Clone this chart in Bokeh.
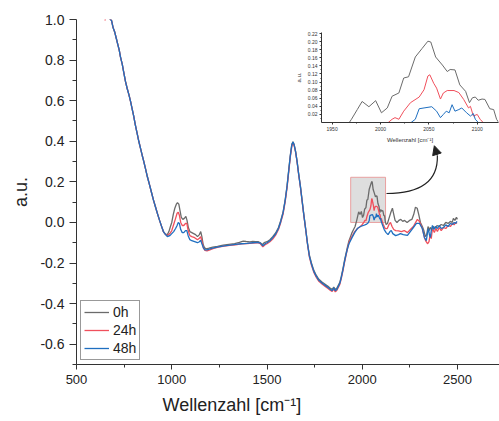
from bokeh.plotting import figure
from bokeh.models import Range1d, FixedTicker, Legend, LegendItem, Arrow, NormalHead, ColumnDataSource, Title
from bokeh.layouts import column
from bokeh.embed import file_html
from bokeh.resources import INLINE

# ---------------- data ----------------
wn_descent = [655, 668, 684, 692, 700, 708, 716, 724, 731, 740, 748, 757, 766, 775, 784, 792, 800, 809,
              818, 827, 836, 845, 852, 862, 872, 882, 893, 904, 915, 926, 936, 946, 956, 966]
a_descent = [1.03, 1.01, 0.995, 0.96, 0.94, 0.91, 0.88, 0.85, 0.815, 0.78, 0.74, 0.695, 0.66, 0.63, 0.595,
             0.56, 0.525, 0.48, 0.44, 0.40, 0.365, 0.33, 0.305, 0.265, 0.225, 0.19, 0.15, 0.11, 0.075,
             0.04, 0.01, -0.018, -0.045, -0.058]

wn_rise = [1515, 1530, 1545, 1560, 1572, 1584, 1595, 1605, 1614, 1622, 1630, 1636, 1642, 1650, 1658,
           1666, 1675, 1684, 1693, 1702, 1712, 1722, 1733, 1745, 1758, 1772, 1790, 1805, 1820, 1833,
           1842, 1850, 1858, 1866, 1874, 1882]
a_rise_0h = [-0.085, -0.07, -0.052, -0.025, 0.01, 0.05, 0.11, 0.18, 0.26, 0.33, 0.385, 0.398, 0.385,
             0.35, 0.30, 0.24, 0.18, 0.11, 0.04, -0.025, -0.10, -0.16, -0.20, -0.235, -0.26, -0.28,
             -0.295, -0.305, -0.315, -0.325, -0.33, -0.318, -0.33, -0.325, -0.31, -0.295]
a_rise_24h = [-0.095, -0.082, -0.063, -0.035, 0.0, 0.04, 0.10, 0.17, 0.25, 0.32, 0.375, 0.39, 0.38,
              0.345, 0.295, 0.235, 0.175, 0.105, 0.035, -0.03, -0.105, -0.17, -0.21, -0.245, -0.27,
              -0.29, -0.305, -0.315, -0.325, -0.335, -0.34, -0.328, -0.342, -0.335, -0.32, -0.305]
a_rise_48h = [-0.09, -0.075, -0.057, -0.03, 0.005, 0.047, 0.107, 0.177, 0.257, 0.327, 0.382, 0.396,
              0.383, 0.348, 0.298, 0.238, 0.178, 0.107, 0.037, -0.028, -0.103, -0.165, -0.205, -0.24,
              -0.265, -0.285, -0.3, -0.31, -0.32, -0.33, -0.336, -0.322, -0.336, -0.33, -0.315, -0.3]

# 0h
wn_0h_a = [977, 985, 993, 1000, 1008, 1016, 1024, 1030, 1037, 1043, 1050, 1058, 1066, 1074, 1080, 1087,
           1095, 1105, 1115, 1125, 1135, 1145, 1152, 1158, 1165, 1172, 1182, 1195, 1215, 1240, 1270,
           1300, 1330, 1355, 1375, 1390, 1410, 1425, 1440, 1455, 1465, 1475, 1485, 1500]
a_0h_a = [-0.06, -0.045, -0.02, 0.0, 0.04, 0.07, 0.09, 0.097, 0.09, 0.06, 0.025, 0.015, 0.02, 0.03,
          0.01, -0.025, -0.045, -0.05, -0.055, -0.06, -0.07, -0.06, -0.045, -0.07, -0.11, -0.125,
          -0.13, -0.127, -0.122, -0.118, -0.112, -0.108, -0.104, -0.098, -0.092, -0.094, -0.096,
          -0.093, -0.095, -0.095, -0.10, -0.11, -0.10, -0.095]
wn_0h_b = [1890, 1898, 1906, 1914, 1922, 1930, 1938, 1946, 1954, 1962, 1970, 1976, 1981, 1988, 1995,
           2001, 2007, 2012, 2019, 2024, 2029, 2036, 2043, 2049, 2052, 2057, 2064, 2069, 2072, 2077,
           2082, 2088, 2092, 2095, 2098, 2101, 2105, 2108, 2113, 2117, 2120, 2125, 2132, 2140, 2150,
           2158, 2165, 2172, 2182, 2192, 2202, 2212, 2222, 2235, 2248, 2260, 2270, 2279, 2288, 2296,
           2305, 2315, 2323, 2331, 2338, 2345, 2352, 2357, 2365, 2373, 2382, 2392, 2402, 2414, 2426,
           2438, 2450, 2462, 2472, 2478, 2486, 2494, 2499]
a_0h_b = [-0.265, -0.23, -0.19, -0.155, -0.12, -0.09, -0.07, -0.05, -0.035, -0.02, 0.008, 0.032, 0.052,
          0.039, 0.054, 0.024, 0.036, 0.065, 0.073, 0.11, 0.113, 0.162, 0.183, 0.201, 0.199, 0.162,
          0.142, 0.126, 0.131, 0.13, 0.093, 0.077, 0.049, 0.061, 0.063, 0.055, 0.058, 0.057, 0.034,
          0.032, 0.008, -0.01, -0.005, 0.02, 0.05, 0.07, 0.04, 0.01, 0.0, 0.01, 0.015, 0.005, 0.01,
          0.0, 0.01, 0.015, 0.04, 0.075, 0.07, 0.04, 0.0, -0.02, -0.04, -0.07, -0.06, -0.02, -0.04,
          -0.025, -0.035, -0.02, -0.03, -0.015, -0.02, -0.01, -0.015, 0.0, -0.005, 0.005, 0.0, 0.02,
          0.01, 0.025, 0.015]

# 24h
wn_24h_a = [977, 990, 1000, 1010, 1020, 1028, 1034, 1040, 1047, 1055, 1063, 1072, 1079, 1086, 1095,
            1105, 1120, 1135, 1145, 1152, 1158, 1166, 1174, 1185, 1200, 1220, 1245, 1275, 1305, 1335,
            1365, 1395, 1425, 1450, 1465, 1478, 1490, 1500]
a_24h_a = [-0.065, -0.055, -0.04, -0.01, 0.02, 0.045, 0.05, 0.035, 0.0, -0.015, -0.015, -0.005, -0.005,
           -0.04, -0.065, -0.07, -0.075, -0.085, -0.078, -0.07, -0.09, -0.125, -0.138, -0.14, -0.135,
           -0.128, -0.122, -0.117, -0.113, -0.11, -0.106, -0.104, -0.102, -0.10, -0.105, -0.12,
           -0.11, -0.105]
wn_24h_b = [1890, 1898, 1906, 1914, 1922, 1930, 1938, 1946, 1960, 1975, 1990, 2000, 2008, 2012, 2015,
            2019, 2024, 2031, 2040, 2045, 2049, 2051, 2055, 2058, 2062, 2065, 2069, 2076, 2081, 2086,
            2091, 2093, 2096, 2100, 2103, 2110, 2120, 2131, 2140, 2148, 2156, 2165, 2175, 2190, 2205,
            2220, 2237, 2252, 2268, 2280, 2289, 2300, 2315, 2326, 2335, 2343, 2350, 2356, 2362, 2368,
            2378, 2386, 2394, 2404, 2414, 2426, 2438, 2450, 2462, 2474, 2482, 2490, 2497]
a_24h_b = [-0.275, -0.24, -0.20, -0.165, -0.13, -0.10, -0.08, -0.068, -0.045, -0.03, -0.02, -0.01, 0.0,
           0.008, 0.012, 0.008, 0.028, 0.049, 0.063, 0.081, 0.115, 0.118, 0.097, 0.085, 0.058, 0.073,
           0.079, 0.079, 0.074, 0.057, 0.036, 0.04, 0.016, 0.02, 0.008, -0.01, -0.03, -0.03, -0.01,
           0.0, -0.02, -0.035, -0.04, -0.042, -0.045, -0.04, -0.05, -0.035, -0.02, 0.0, 0.015, 0.005,
           -0.03, -0.075, -0.095, -0.105, -0.095, -0.06, -0.08, -0.03, -0.05, -0.03, -0.045, -0.025,
           -0.04, -0.025, -0.03, -0.015, -0.02, -0.005, -0.012, 0.0, -0.005]

# 48h
wn_48h_a = [977, 990, 1000, 1010, 1020, 1028, 1034, 1040, 1047, 1055, 1063, 1072, 1079, 1086, 1095,
            1105, 1120, 1135, 1145, 1152, 1158, 1166, 1174, 1185, 1200, 1220, 1245, 1275, 1305, 1335,
            1365, 1395, 1425, 1450, 1465, 1478, 1490, 1500]
a_48h_a = [-0.07, -0.065, -0.055, -0.045, -0.03, -0.015, 0.0, -0.005, -0.035, -0.05, -0.05, -0.04,
           -0.04, -0.065, -0.085, -0.09, -0.095, -0.10, -0.095, -0.088, -0.105, -0.125, -0.135, -0.135,
           -0.13, -0.125, -0.12, -0.115, -0.112, -0.108, -0.105, -0.103, -0.10, -0.098, -0.102,
           -0.115, -0.105, -0.10]
wn_48h_b = [1890, 1898, 1906, 1914, 1922, 1930, 1938, 1946, 1960, 1974, 1990, 2006, 2020, 2030, 2036,
            2040, 2045, 2053, 2058, 2062, 2065, 2068, 2071, 2074, 2077, 2081, 2084, 2089, 2093, 2096,
            2098, 2105, 2115, 2125, 2135, 2145, 2152, 2160, 2175, 2190, 2200, 2215, 2237, 2252, 2268,
            2284, 2300, 2315, 2326, 2336, 2342, 2347, 2352, 2357, 2362, 2368, 2376, 2384, 2394, 2404,
            2414, 2426, 2438, 2450, 2462, 2474, 2482, 2490, 2497]
a_48h_b = [-0.27, -0.235, -0.195, -0.16, -0.13, -0.105, -0.09, -0.075, -0.05, -0.03, -0.02, -0.015,
           -0.01, -0.003, 0.008, 0.034, 0.036, 0.039, 0.028, 0.012, 0.02, 0.028, 0.024, 0.044, 0.028,
           0.032, 0.036, 0.024, 0.016, 0.022, 0.008, -0.01, -0.035, -0.05, -0.06, -0.045, -0.04,
           -0.055, -0.065, -0.06, -0.055, -0.06, -0.064, -0.045, -0.025, -0.005, -0.005, -0.03,
           -0.074, -0.09, -0.05, -0.03, -0.06, -0.074, -0.04, -0.015, -0.035, -0.02, -0.03, -0.015,
           -0.03, -0.025, -0.012, -0.02, -0.005, -0.01, 0.0, -0.005, 0.005]

series_labels = ["0h", "24h", "48h"]
series_colors = ["#6b6b6b", "#f0505c", "#1f6fc0"]

x_major = [500, 1000, 1500, 2000, 2500]
x_minor = [750, 1250, 1750, 2250, 2750]
y_major = [-0.6, -0.4, -0.2, 0.0, 0.2, 0.4, 0.6, 0.8, 1.0]
y_minor = [-0.7, -0.5, -0.3, -0.1, 0.1, 0.3, 0.5, 0.7, 0.9]
y_labels = ["-0.6", "-0.4", "-0.2", "0.0", "0.2", "0.4", "0.6", "0.8", "1.0"]

ix_major = [1950, 2000, 2050, 2100]
ix_minor = [1975, 2025, 2075, 2125]
iy_major = [0.02, 0.04, 0.06, 0.08, 0.10, 0.12, 0.14, 0.16, 0.18, 0.20, 0.22]
iy_minor = [0.01, 0.03, 0.05, 0.07, 0.09, 0.11, 0.13, 0.15, 0.17, 0.19, 0.21]
iy_labels = ["0.02", "0.04", "0.06", "0.08", "0.10", "0.12", "0.14", "0.16", "0.18", "0.20", "0.22"]

inset_x = (1939, 2122)
inset_y = (0.0, 0.2225)

x_title = "Wellenzahl [cm⁻¹]"
y_title = "a.u."

# ---------------- assemble ----------------
x0h = wn_descent + wn_0h_a + wn_rise + wn_0h_b
y0h = a_descent + a_0h_a + a_rise_0h + a_0h_b
x24 = [650] + wn_descent + wn_24h_a + wn_rise + wn_24h_b
y24 = [0.995] + a_descent + a_24h_a + a_rise_24h + a_24h_b
x48 = wn_descent + wn_48h_a + wn_rise + wn_48h_b
y48 = a_descent + a_48h_a + a_rise_48h + a_48h_b

sources = [ColumnDataSource(dict(x=x0h, y=y0h)),
           ColumnDataSource(dict(x=x24, y=y24)),
           ColumnDataSource(dict(x=x48, y=y48))]

FONT = "Liberation Sans"
AX = "#333333"

p = figure(width=499, height=421, x_range=Range1d(500, 2720), y_range=Range1d(-0.7, 1.0),
           output_backend="svg", toolbar_location=None,
           min_border_left=76, min_border_right=0, min_border_top=19, min_border_bottom=56)
p.outline_line_color = None
p.grid.visible = False
p.background_fill_color = "white"
p.frame_align = False

for ax in (p.xaxis[0], p.yaxis[0]):
    ax.axis_line_color = AX
    ax.major_tick_line_color = AX
    ax.minor_tick_line_color = AX
    ax.major_tick_in = 0
    ax.minor_tick_in = 0
    ax.major_label_text_font = FONT
    ax.major_label_text_color = "#222222"
    ax.axis_label_text_font = FONT
    ax.axis_label_text_font_style = "normal"
    ax.axis_label_text_font_size = "18px"
    ax.axis_label_text_color = "#222222"

p.xaxis.ticker = FixedTicker(ticks=x_major, minor_ticks=x_minor)
p.xaxis.major_tick_out = 5
p.xaxis.minor_tick_out = 3
p.xaxis.major_label_text_font_size = "13px"

p.yaxis.ticker = FixedTicker(ticks=y_major, minor_ticks=y_minor)
p.yaxis.major_label_overrides = {v: s for v, s in zip(y_major, y_labels)}
p.yaxis.major_tick_out = 7
p.yaxis.minor_tick_out = 4
p.yaxis.major_label_text_font_size = "14px"
p.yaxis.axis_label = y_title
p.yaxis.axis_label_standoff = 6

# x axis title, placed left of centre as in the original
p.add_layout(Title(text=x_title, align="left", offset=86, standoff=13, text_font=FONT,
                   text_font_size="18px", text_font_style="normal", text_color="#222222"), "below")

# zoom rectangle
p.quad(left=[inset_x[0]], right=[inset_x[1]], bottom=[inset_y[0]], top=[inset_y[1]],
       fill_color="#d6d6d6", fill_alpha=0.8, line_color="#e9a0a0", line_width=1)

renderers = []
for src, col in zip(sources, series_colors):
    renderers.append(p.line("x", "y", source=src, line_color=col, line_width=1.3))

# curved arrow
arrow_start = (2127, 0.1425)
arrow_ctrl = (2399, 0.1425)
arrow_mid = (2394, 0.329)
arrow_tip = (2378, 0.378)
p.quadratic(x0=[arrow_start[0]], y0=[arrow_start[1]], x1=[arrow_mid[0]], y1=[arrow_mid[1]],
            cx=[arrow_ctrl[0]], cy=[arrow_ctrl[1]], line_color="#222222", line_width=1.2)
p.add_layout(Arrow(end=NormalHead(size=9, fill_color="#222222", line_color="#222222", line_width=1),
                   x_start=arrow_mid[0], y_start=arrow_mid[1], x_end=arrow_tip[0], y_end=arrow_tip[1],
                   line_color="#222222", line_width=1.2))

legend = Legend(items=[LegendItem(label=l, renderers=[r]) for l, r in zip(series_labels, renderers)],
                location="bottom_left")
legend.margin = 4
legend.padding = 3
legend.spacing = 2
legend.glyph_width = 25
legend.glyph_height = 16
legend.label_height = 16
legend.label_standoff = 4
legend.label_text_font = FONT
legend.label_text_font_size = "14px"
legend.label_text_color = "#222222"
legend.border_line_color = "#333333"
legend.border_line_width = 1
legend.background_fill_color = "white"
legend.background_fill_alpha = 1
p.add_layout(legend)

# ---------------- inset ----------------
q = figure(width=209, height=120, x_range=Range1d(*inset_x), y_range=Range1d(*inset_y),
           output_backend="svg", toolbar_location=None,
           min_border_left=31, min_border_right=1, min_border_top=7, min_border_bottom=22)
q.outline_line_color = None
q.grid.visible = False
q.background_fill_alpha = 0
q.border_fill_alpha = 0
q.frame_align = False
for ax in (q.xaxis[0], q.yaxis[0]):
    ax.axis_line_color = AX
    ax.major_tick_line_color = AX
    ax.minor_tick_line_color = AX
    ax.major_tick_in = 0
    ax.minor_tick_in = 0
    ax.major_tick_out = 2
    ax.minor_tick_out = 1
    ax.major_label_standoff = 2
    ax.major_label_text_font = FONT
    ax.major_label_text_font_size = "5px"
    ax.major_label_text_color = "#333333"
    ax.axis_label_text_font = FONT
    ax.axis_label_text_font_style = "normal"
    ax.axis_label_text_font_size = "6px"
    ax.axis_label_text_color = "#333333"
    ax.axis_label_standoff = 3
q.xaxis.ticker = FixedTicker(ticks=ix_major, minor_ticks=ix_minor)
q.xaxis.axis_label = x_title
q.yaxis.ticker = FixedTicker(ticks=iy_major, minor_ticks=iy_minor)
q.yaxis.major_label_overrides = {v: s for v, s in zip(iy_major, iy_labels)}
q.yaxis.axis_label = y_title
for src, col in zip(sources, series_colors):
    q.line("x", "y", source=src, line_color=col, line_width=1.0)

q.margin = (-396, 0, 276, 290)

layout = column(p, q, spacing=0)
layout.margin = 0

open("out.html", "w").write(file_html(layout, INLINE))
